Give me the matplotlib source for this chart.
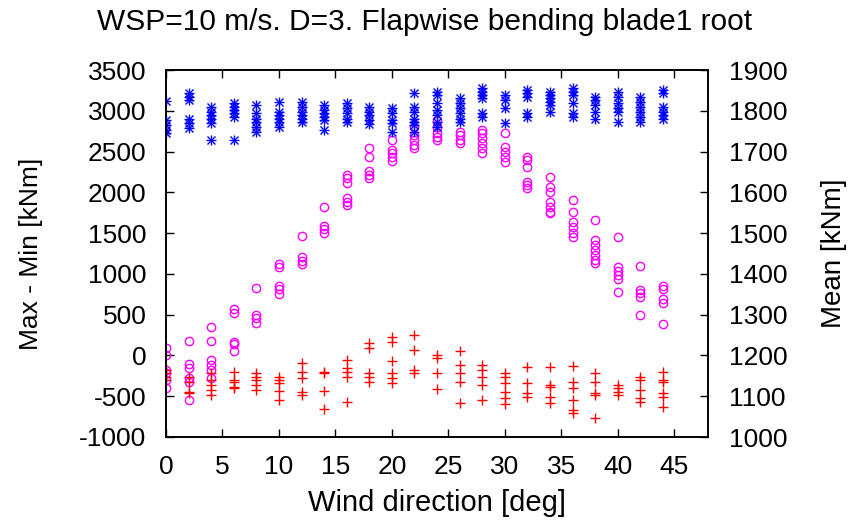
import matplotlib
matplotlib.use("Agg")
import matplotlib.pyplot as plt
import numpy as np

plt.rcParams['font.family'] = ['Liberation Sans', 'DejaVu Sans']
plt.rcParams['axes.unicode_minus'] = False

directions = [0, 2, 4, 6, 8, 10, 12, 14, 16, 18, 20, 22, 24, 26, 28, 30, 32, 34, 36, 38, 40, 42, 44]

# Mean [kNm] (right axis) - blue asterisks
mean_vals = [
    [1823, 1778, 1765, 1753, 1745],
    [1843, 1835, 1826, 1781, 1769, 1757],
    [1810, 1798, 1790, 1781, 1771, 1728],
    [1818, 1810, 1802, 1794, 1784, 1728],
    [1814, 1794, 1781, 1773, 1761, 1749],
    [1822, 1798, 1790, 1781, 1773, 1761],
    [1822, 1810, 1798, 1790, 1781, 1773],
    [1814, 1802, 1794, 1785, 1777, 1753],
    [1818, 1806, 1794, 1781, 1773],
    [1810, 1798, 1790, 1778, 1768],
    [1806, 1794, 1778, 1769, 1749],
    [1843, 1810, 1798, 1781, 1773, 1765, 1749],
    [1847, 1839, 1818, 1802, 1790, 1773, 1761],
    [1831, 1818, 1806, 1794, 1781, 1773],
    [1855, 1847, 1839, 1831, 1794, 1785],
    [1839, 1826, 1806, 1769],
    [1851, 1843, 1835, 1794, 1785],
    [1847, 1839, 1831, 1822, 1814, 1798],
    [1855, 1847, 1839, 1818, 1794, 1785],
    [1835, 1826, 1814, 1798, 1781],
    [1847, 1835, 1818, 1806, 1798, 1773],
    [1835, 1822, 1810, 1798, 1785, 1773],
    [1851, 1843, 1810, 1798, 1790, 1781],
]

# Max - Min [kNm] (left axis) - magenta circles
range_vals = [
    [95, 5, -178, -219, -301, -403],
    [177, -105, -158, -280, -322, -546],
    [352, 177, -56, -117, -178, -280],
    [566, 517, 169, 137, 54],
    [823, 496, 455, 394],
    [1118, 1088, 852, 811, 753],
    [1465, 1211, 1162, 1121],
    [1824, 1587, 1547, 1498],
    [2213, 2172, 2111, 1927, 1885, 1845],
    [2540, 2437, 2262, 2213, 2172],
    [2642, 2519, 2479, 2437, 2384],
    [2805, 2703, 2642, 2580, 2540],
    [2887, 2805, 2724, 2683, 2642],
    [2744, 2703, 2642, 2601],
    [2764, 2724, 2663, 2601, 2540, 2479],
    [2724, 2560, 2499, 2437, 2376],
    [2437, 2397, 2315, 2131, 2090, 2050],
    [2192, 2070, 2008, 1885, 1824, 1763, 1743],
    [1906, 1755, 1640, 1579, 1498, 1456],
    [1661, 1416, 1354, 1293, 1232, 1170, 1130],
    [1456, 1088, 1039, 986, 937, 774],
    [1097, 803, 762, 720, 496],
    [852, 811, 692, 639, 382],
]

# Red crosses (left axis)
other_vals = [
    [-178, -219, -260, -301],
    [-260, -322, -444, -464],
    [-219, -301, -362, -424, -485],
    [-199, -301, -322, -383, -403],
    [-219, -260, -301, -362, -424],
    [-260, -301, -334, -432, -546],
    [-96, -199, -280, -444, -485],
    [-199, -219, -432, -660],
    [-56, -158, -199, -260, -567],
    [149, 87, -219, -260, -322],
    [230, 169, -68, -219, -280, -342],
    [251, 67, -178, -219],
    [5, -35, -219, -415],
    [54, -117, -219, -322, -587],
    [-117, -178, -260, -362, -546],
    [-219, -260, -342, -444, -526, -595],
    [-138, -342, -464, -506],
    [-138, -362, -383, -506, -587],
    [-126, -322, -403, -546, -669, -710],
    [-219, -322, -464, -485, -763],
    [-362, -403, -444, -485],
    [-260, -301, -424, -526, -567],
    [-199, -301, -322, -464, -506, -636],
]

title = "WSP=10 m/s. D=3. Flapwise bending blade1 root"
xlabel = "Wind direction [deg]"
ylabel_left = "Max - Min [kNm]"
ylabel_right = "Mean [kNm]"
xticks = [0, 5, 10, 15, 20, 25, 30, 35, 40, 45]
yticks_left = [-1000, -500, 0, 500, 1000, 1500, 2000, 2500, 3000, 3500]
yticks_right = [1000, 1100, 1200, 1300, 1400, 1500, 1600, 1700, 1800, 1900]


def flatten(groups):
    xs, ys = [], []
    for d, vals in zip(directions, groups):
        xs.extend([d] * len(vals))
        ys.extend(vals)
    return np.array(xs), np.array(ys)


fig = plt.figure(figsize=(8.5, 5.26), dpi=100)
ax = fig.add_axes([166 / 850, 1 - 437 / 526, (708 - 166) / 850, (437 - 70) / 526])
ax2 = ax.twinx()

xr, yr = flatten(range_vals)
xo, yo = flatten(other_vals)
xm, ym = flatten(mean_vals)

ax.plot(xr, yr, linestyle='none', marker='o', markersize=6, markerfacecolor='none',
        markeredgecolor='#ff00ff', markeredgewidth=1.0)
ax.plot(xo, yo, linestyle='none', marker='+', markersize=7, color='#ff0000', markeredgewidth=1.0)
ax2.plot(xm, ym, linestyle='none', marker='+', markersize=7, color='#0000ff', markeredgewidth=1.0)
ax2.plot(xm, ym, linestyle='none', marker='x', markersize=5.5, color='#0000ff', markeredgewidth=1.0)

ax.set_xlim(0, 48)
ax.set_ylim(-1000, 3500)
ax2.set_ylim(1000, 1900)
ax.set_xticks(xticks)
ax.set_yticks(yticks_left)
ax2.set_yticks(yticks_right)

fs = 19
ax.tick_params(axis='x', direction='in', top=True, bottom=True, length=6, width=1,
               labelsize=fs, pad=13)
ax.tick_params(axis='y', direction='in', left=True, right=False, length=6, width=1,
               labelsize=fs, pad=14)
ax2.tick_params(axis='y', direction='in', right=True, left=False, length=6, width=1,
                labelsize=fs, pad=15)

for a in (ax, ax2):
    for s in a.spines.values():
        s.set_linewidth(1.2)
        s.set_color('black')

ax.set_xlabel(xlabel, fontsize=21, labelpad=7)
ax.set_ylabel(ylabel_left, fontsize=19, labelpad=26)
ax2.set_ylabel(ylabel_right, fontsize=20, labelpad=24)
fig.text(0.5, 1 - 22 / 526, title, ha='center', va='center', fontsize=21.5)

fig.savefig("out.png", dpi=100)
